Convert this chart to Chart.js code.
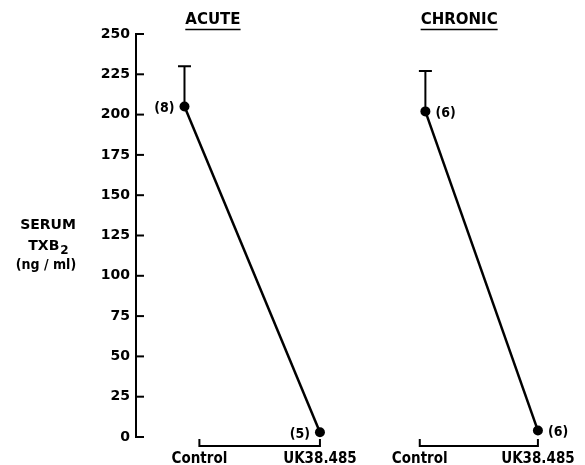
<!DOCTYPE html>
<html>
<head>
<meta charset="utf-8">
<script src="https://cdn.jsdelivr.net/npm/chart.js@4.4.1/dist/chart.umd.min.js"></script>
<style>
  body { margin: 0; background: #fff; }
  #wrap { position: relative; width: 585px; height: 465px; }
  canvas { position: absolute; top: 0; left: 0; }
</style>
</head>
<body>
<div id="wrap">
  <canvas id="acuteChart" width="585" height="465"></canvas>
  <canvas id="chronicChart" width="585" height="465"></canvas>
</div>
<script>
const categories = ["Control", "UK38.485"];
const acuteMean = [205, 3];
const acuteSem = [25, 0];
const acuteN = [8, 5];
const chronicMean = [202, 4];
const chronicSem = [25, 0];
const chronicN = [6, 6];
const yMin = 0;
const yMax = 250;
const yStep = 25;

const INK = "#000";
const FAMILY = "'DejaVu Sans', sans-serif";
const NARROW = "'DejaVu Sans Condensed', 'DejaVu Sans', sans-serif";

Chart.defaults.font.family = FAMILY;
Chart.defaults.font.weight = "bold";
Chart.defaults.color = INK;

function font(size, family) {
  return "bold " + size + "px " + (family || FAMILY);
}

// error bars, bracket axis, titles and n labels
const panelPlugin = {
  id: "panel",
  beforeDatasetsDraw(chart) {
    const { ctx } = chart;
    const ds = chart.data.datasets[0];
    const x = chart.scales.x;
    const y = chart.scales.y;
    ctx.save();
    ctx.strokeStyle = INK;
    ctx.lineWidth = 2;
    ds.sem.forEach((e, i) => {
      if (!e) return;
      const px = x.getPixelForValue(i);
      const y0 = y.getPixelForValue(ds.data[i].y);
      const y1 = y.getPixelForValue(ds.data[i].y + e);
      ctx.beginPath();
      ctx.moveTo(px, y0);
      ctx.lineTo(px, y1);
      ctx.moveTo(px - 6.5, y1);
      ctx.lineTo(px + 6.5, y1);
      ctx.stroke();
    });
    ctx.restore();
  },
  afterDraw(chart, args, opts) {
    const { ctx, chartArea } = chart;
    const x = chart.scales.x;
    const y = chart.scales.y;
    const ds = chart.data.datasets[0];
    ctx.save();
    ctx.strokeStyle = INK;
    ctx.fillStyle = INK;
    ctx.lineWidth = 2;

    // y ticks pointing into the plot
    if (opts.yAxis) {
      y.ticks.forEach((t) => {
        const py = y.getPixelForValue(t.value);
        ctx.beginPath();
        ctx.moveTo(chartArea.left, py);
        ctx.lineTo(chartArea.left + 8, py);
        ctx.stroke();
      });
      ctx.font = font(14);
      ctx.textAlign = "center";
      ctx.textBaseline = "middle";
      ctx.fillText("SERUM", 48, 225);
      const w1 = ctx.measureText("TXB").width;
      ctx.font = font(12);
      const w2 = ctx.measureText("2").width;
      const sx = 48 - (w1 + w2) / 2;
      ctx.textAlign = "left";
      ctx.font = font(14);
      ctx.fillText("TXB", sx, 246);
      ctx.font = font(12);
      ctx.fillText("2", sx + w1 + 1, 251);
      ctx.font = font(14, NARROW);
      ctx.textAlign = "center";
      ctx.fillText("(ng / ml)", 46, 265);
    }

    // panel title, underlined
    ctx.font = font(15);
    ctx.textAlign = "center";
    ctx.textBaseline = "middle";
    const tx = x.getPixelForValue(opts.titleAt);
    ctx.fillText(opts.title, tx, 20);
    const tw = ctx.measureText(opts.title).width;
    ctx.lineWidth = 1.5;
    ctx.beginPath();
    ctx.moveTo(tx - tw / 2, 29.5);
    ctx.lineTo(tx + tw / 2, 29.5);
    ctx.stroke();

    // bracket x axis
    ctx.lineWidth = 2;
    const yb = chartArea.bottom + 9;
    const xl = x.getPixelForValue(opts.bracketFrom);
    const xr = x.getPixelForValue(categories.length - 1);
    ctx.beginPath();
    ctx.moveTo(xl, yb - 7);
    ctx.lineTo(xl, yb);
    ctx.lineTo(xr, yb);
    ctx.lineTo(xr, yb - 7);
    ctx.stroke();
    ctx.font = font(15, NARROW);
    ctx.fillText(categories[0], xl, yb + 13);
    ctx.fillText(categories[1], xr, yb + 13);

    // group sizes beside the points
    const meta = chart.getDatasetMeta(0);
    ctx.font = font(14, NARROW);
    ds.n.forEach((n, i) => {
      const el = meta.data[i];
      const left = opts.nSide[i] === "left";
      ctx.textAlign = left ? "right" : "left";
      ctx.fillText("(" + n + ")", el.x + (left ? -10 : 10), el.y + 2);
    });
    ctx.restore();
  },
};

function makePanel(id, mean, sem, n, panel, xRange, padLeft, showY) {
  return new Chart(document.getElementById(id), {
    type: "line",
    data: {
      datasets: [
        {
          data: mean.map((v, i) => ({ x: i, y: v })),
          sem: sem,
          n: n,
          borderColor: INK,
          borderWidth: 2.5,
          pointRadius: 5,
          pointBackgroundColor: INK,
          pointBorderWidth: 0,
          tension: 0,
          clip: false,
        },
      ],
    },
    options: {
      responsive: false,
      animation: false,
      layout: { padding: { top: 34, bottom: 28, left: padLeft, right: 0 } },
      scales: {
        x: { type: "linear", min: xRange[0], max: xRange[1], display: false },
        y: {
          min: yMin,
          max: yMax,
          display: showY,
          ticks: { stepSize: yStep, padding: 6, color: INK, font: { size: 14, weight: "bold" } },
          grid: { display: true, drawOnChartArea: false, drawTicks: false },
          border: { display: true, color: INK, width: 2 },
          afterFit: (s) => { s.width = showY ? 136 : 0; },
        },
      },
      plugins: {
        legend: { display: false },
        tooltip: { enabled: false },
        panel: panel,
      },
    },
    plugins: [panelPlugin],
  });
}

makePanel("acuteChart", acuteMean, acuteSem, acuteN,
  { title: "ACUTE", titleAt: 0.21, bracketFrom: 0.11, nSide: ["left", "left"], yAxis: true },
  [-0.358, 2.92], 0, true);

makePanel("chronicChart", chronicMean, chronicSem, chronicN,
  { title: "CHRONIC", titleAt: 0.3, bracketFrom: -0.05, nSide: ["right", "right"], yAxis: false },
  [-0.67, 1.374], 350, false);
</script>
</body>
</html>
